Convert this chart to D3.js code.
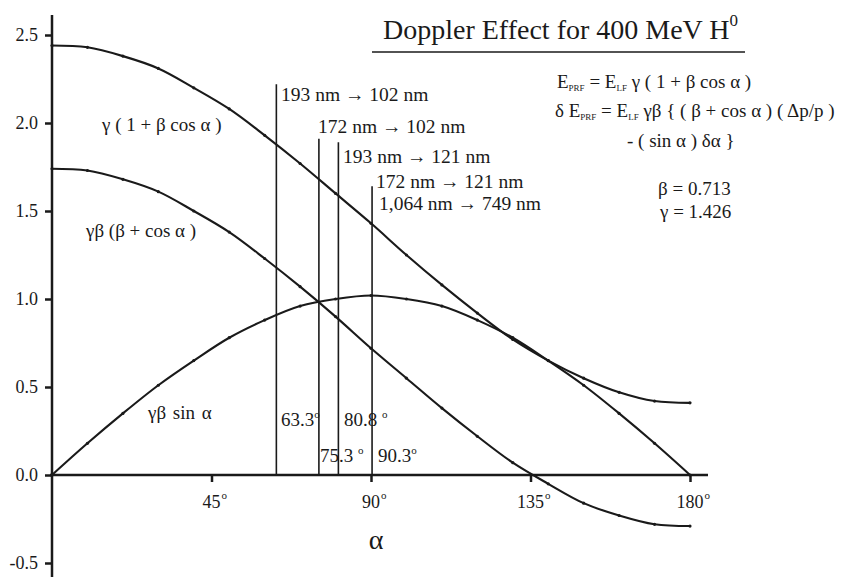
<!DOCTYPE html>
<html>
<head>
<meta charset="utf-8">
<script src="https://cdn.jsdelivr.net/npm/d3@7"></script>
<style>
  html, body { margin: 0; padding: 0; background: #fff; }
  svg { display: block; }
  text { font-family: "Liberation Serif", "Times New Roman", serif; fill: #1a1a1a; }
</style>
</head>
<body>
<svg id="chart" width="849" height="577"></svg>
<script>
// ---------------- data ----------------
const alphaDeg = [0, 10, 20, 30, 40, 50, 60, 70, 80, 90, 100, 110, 120, 130, 140, 150, 160, 170, 180];
const gammaOnePlusBetaCos = [2.44, 2.43, 2.38, 2.31, 2.20, 2.08, 1.93, 1.77, 1.60, 1.43, 1.25, 1.08, 0.92, 0.77, 0.65, 0.55, 0.47, 0.42, 0.41];
const gammaBetaBetaPlusCos = [1.74, 1.73, 1.68, 1.61, 1.50, 1.38, 1.23, 1.07, 0.90, 0.72, 0.55, 0.38, 0.22, 0.07, -0.05, -0.16, -0.23, -0.28, -0.29];
const gammaBetaSin = [0.00, 0.18, 0.35, 0.51, 0.65, 0.78, 0.88, 0.96, 1.00, 1.02, 1.00, 0.96, 0.88, 0.78, 0.65, 0.51, 0.35, 0.18, 0.00];

const xTickValues = [45, 90, 135, 180];
const yTickValues = [-0.5, 0.0, 0.5, 1.0, 1.5, 2.0, 2.5];

const markerAngles = [63.3, 75.3, 80.8, 90.3];
const markerTops = [2.22, 1.91, 1.89, 1.64];
const markerAngleLabels = ["63.3", "75.3 ", "80.8 ", "90.3"];
const transitionLabels = ["193 nm \u2192 102 nm", "172 nm \u2192 102 nm", "193 nm \u2192 121 nm", "172 nm \u2192 121 nm", "1,064 nm \u2192 749 nm"];

const curveNames = ["\u03b3 ( 1 + \u03b2 cos \u03b1 )", "\u03b3\u03b2 (\u03b2 + cos \u03b1 )", "\u03b3\u03b2 sin \u03b1"];
const titleText = "Doppler Effect for 400 MeV H";
const betaText = "\u03b2 = 0.713";
const gammaText = "\u03b3 = 1.426";

// ---------------- layout ----------------
const svg = d3.select("#chart");
const ink = "#1a1a1a";
const x = d3.scaleLinear().domain([0, 180]).range([52, 690]);
const y = d3.scaleLinear().domain([-0.5, 2.5]).range([563, 35]);

// Y axis
const yAxis = d3.axisLeft(y).tickValues(yTickValues).tickFormat(d => d.toFixed(1))
  .tickSize(7).tickSizeOuter(0).tickPadding(7);
const gy = svg.append("g").attr("transform", `translate(${x(0)},0)`).call(yAxis);
gy.select(".domain").remove();
gy.selectAll(".tick line").attr("stroke", ink).attr("stroke-width", 2.5);
gy.selectAll(".tick text").attr("font-size", 18).attr("font-family", "Liberation Serif").attr("fill", ink);
svg.append("line").attr("x1", x(0)).attr("x2", x(0)).attr("y1", 15).attr("y2", 577)
  .attr("stroke", ink).attr("stroke-width", 2.5);

// X axis
const xAxis = d3.axisBottom(x).tickValues(xTickValues).tickFormat("").tickSize(7).tickSizeOuter(0);
const gx = svg.append("g").attr("transform", `translate(0,${y(0)})`).call(xAxis);
gx.select(".domain").remove();
gx.selectAll(".tick line").attr("stroke", ink).attr("stroke-width", 2.5);
svg.append("line").attr("x1", 50).attr("x2", 708).attr("y1", y(0)).attr("y2", y(0))
  .attr("stroke", ink).attr("stroke-width", 2.5);

// x tick labels with superscript degree
xTickValues.forEach(v => {
  const t = svg.append("text").attr("x", x(v)).attr("y", y(0) + 33)
    .attr("text-anchor", "middle").attr("font-size", 18);
  t.append("tspan").text(v);
  const w = t.node().getComputedTextLength();
  svg.append("text").attr("x", x(v) + w / 2 + 1).attr("y", y(0) + 24)
    .attr("font-size", 11).text("o");
});

// alpha axis label
svg.append("text").attr("x", 376).attr("y", 549).attr("text-anchor", "middle")
  .attr("font-size", 28).text("\u03b1");

// marker vertical lines
markerAngles.forEach((a, i) => {
  svg.append("line").attr("x1", x(a)).attr("x2", x(a))
    .attr("y1", y(markerTops[i])).attr("y2", y(0))
    .attr("stroke", ink).attr("stroke-width", 1.6);
});

// curves
const series = [gammaOnePlusBetaCos, gammaBetaBetaPlusCos, gammaBetaSin];
const line = d3.line().x((d, i) => x(alphaDeg[i])).y(d => y(d)).curve(d3.curveCatmullRom.alpha(0.5));
series.forEach(s => {
  svg.append("path").datum(s).attr("d", line).attr("fill", "none")
    .attr("stroke", ink).attr("stroke-width", 2.1);
  svg.append("g").selectAll("circle").data(s).join("circle")
    .attr("cx", (d, i) => x(alphaDeg[i])).attr("cy", d => y(d)).attr("r", 1.6).attr("fill", ink);
});

// curve labels
svg.append("text").attr("x", 102).attr("y", 131).attr("font-size", 19).text(curveNames[0]);
svg.append("text").attr("x", 86).attr("y", 237).attr("font-size", 19).text(curveNames[1]);
svg.append("text").attr("x", 148).attr("y", 419).attr("font-size", 19).attr("word-spacing", 2).text(curveNames[2]);

// transition labels
const transPos = [[281, 101], [318, 133], [343, 163], [376, 188], [379, 210]];
transitionLabels.forEach((s, i) => {
  svg.append("text").attr("x", transPos[i][0]).attr("y", transPos[i][1])
    .attr("font-size", 19.5).text(s);
});

// angle labels
const anglePos = [[281, 426], [320, 462], [344, 426], [378, 462]];
markerAngleLabels.forEach((s, i) => {
  const t = svg.append("text").attr("x", anglePos[i][0]).attr("y", anglePos[i][1]).attr("font-size", 19);
  t.append("tspan").text(s);
  t.append("tspan").attr("font-size", 11).attr("dy", -8).text("o");
});

// title
const title = svg.append("text").attr("x", 383).attr("y", 39).attr("font-size", 28);
title.append("tspan").text(titleText);
title.append("tspan").attr("font-size", 17).attr("dy", -13).text("0");
svg.append("line").attr("x1", 372).attr("x2", 745).attr("y1", 52).attr("y2", 52)
  .attr("stroke", ink).attr("stroke-width", 1.6);

// formulas
const fs = 19, sub = 9;
const f1 = svg.append("text").attr("x", 557).attr("y", 88).attr("font-size", fs);
f1.append("tspan").text("E");
f1.append("tspan").attr("font-size", sub).attr("dy", 3).text("PRF");
f1.append("tspan").attr("dy", -3).text(" = E");
f1.append("tspan").attr("font-size", sub).attr("dy", 3).text("LF");
f1.append("tspan").attr("dy", -3).text(" \u03b3 ( 1 + \u03b2 cos \u03b1 )");

const f2 = svg.append("text").attr("x", 555).attr("y", 117).attr("font-size", fs);
f2.append("tspan").text("\u03b4 E");
f2.append("tspan").attr("font-size", sub).attr("dy", 3).text("PRF");
f2.append("tspan").attr("dy", -3).text(" = E");
f2.append("tspan").attr("font-size", sub).attr("dy", 3).text("LF");
f2.append("tspan").attr("dy", -3).text(" \u03b3\u03b2 { ( \u03b2 + cos \u03b1 ) ( \u0394p/p )");

svg.append("text").attr("x", 627).attr("y", 147).attr("font-size", fs).text("- ( sin \u03b1 ) \u03b4\u03b1 }");

svg.append("text").attr("x", 658).attr("y", 195).attr("font-size", 19).text(betaText);
svg.append("text").attr("x", 660).attr("y", 218).attr("font-size", 19).text(gammaText);
</script>
</body>
</html>
